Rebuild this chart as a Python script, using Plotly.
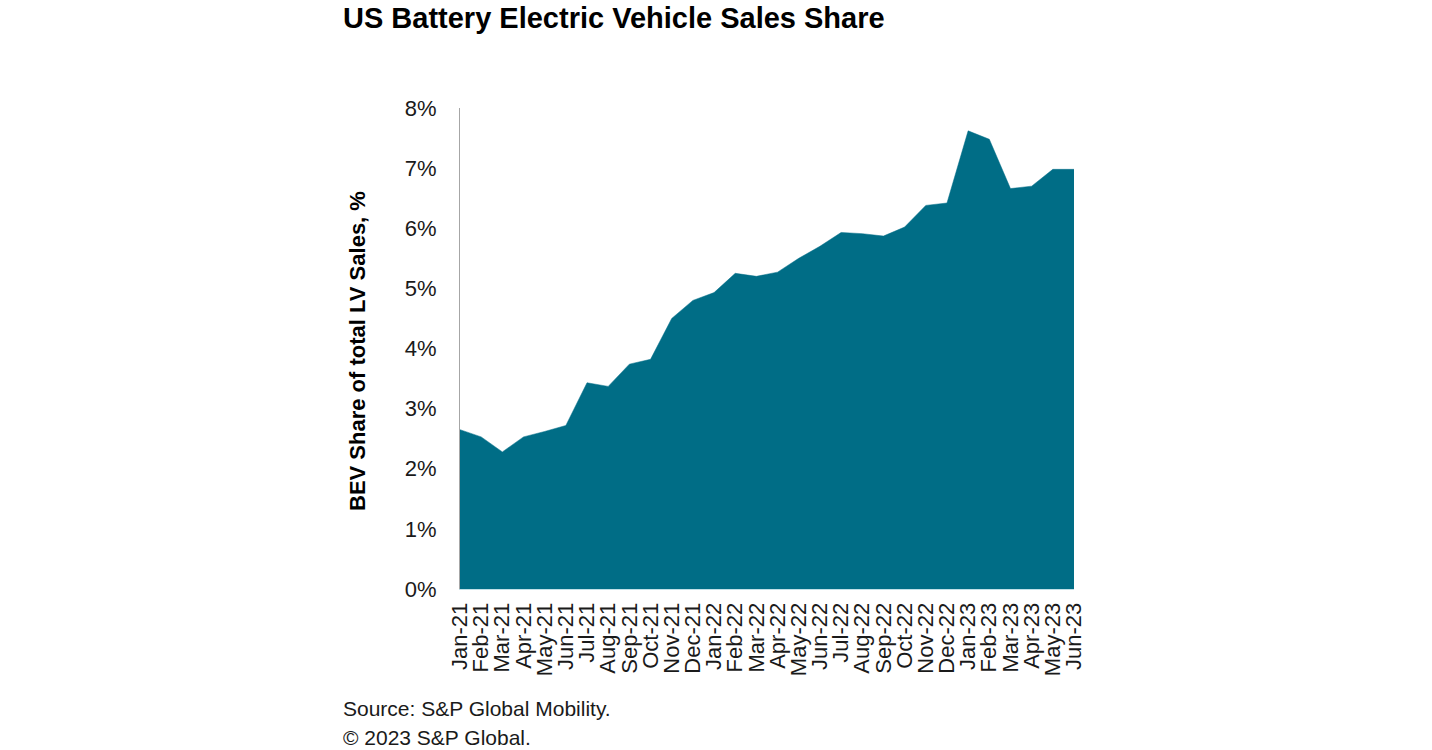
import plotly.graph_objects as go

months = ["Jan-21","Feb-21","Mar-21","Apr-21","May-21","Jun-21","Jul-21","Aug-21","Sep-21","Oct-21",
          "Nov-21","Dec-21","Jan-22","Feb-22","Mar-22","Apr-22","May-22","Jun-22","Jul-22","Aug-22",
          "Sep-22","Oct-22","Nov-22","Dec-22","Jan-23","Feb-23","Mar-23","Apr-23","May-23","Jun-23"]
bev_share = [2.65, 2.53, 2.28, 2.53, 2.62, 2.72, 3.43, 3.37, 3.74, 3.82,
             4.50, 4.80, 4.93, 5.25, 5.20, 5.27, 5.50, 5.70, 5.93, 5.91,
             5.87, 6.02, 6.38, 6.42, 7.62, 7.48, 6.66, 6.70, 6.98, 6.98]
y_ticks = [0, 1, 2, 3, 4, 5, 6, 7, 8]

fig = go.Figure()
fig.add_trace(go.Scatter(
    x=months, y=bev_share, mode="lines", fill="tozeroy",
    line=dict(color="#006D86", width=0.5), fillcolor="#006D86",
    hoverinfo="x+y", showlegend=False,
))

font_family = "Liberation Sans, Arial, sans-serif"
L, R, T, B = 460, 1074, 108, 589
PW, PH = R - L, B - T

def px(x):
    return (x - L) / PW

def py(y):
    return (B - y) / PH

fig.update_layout(
    width=1432, height=750,
    margin=dict(l=L, r=1432 - R, t=T, b=750 - B),
    paper_bgcolor="white", plot_bgcolor="white",
    font=dict(family=font_family, color="#1a1a1a"),
    xaxis=dict(
        type="category", range=[0, len(months) - 1], dtick=1,
        tickangle=-90, tickfont=dict(size=22, color="#1a1a1a"),
        showgrid=False, showline=True, linecolor="#bfe0e8", linewidth=1,
        ticks="", zeroline=False, ticklabelstandoff=4,
    ),
    yaxis=dict(
        range=[0, 8], tickvals=y_ticks, ticktext=[f"{v}%" for v in y_ticks],
        tickfont=dict(size=22, color="#1a1a1a"), showgrid=False,
        showline=True, linecolor="#a6a6a6", linewidth=1, ticks="", zeroline=False,
        ticklabelstandoff=18,
    ),
    annotations=[
        dict(text="<b>US Battery Electric Vehicle Sales Share</b>", xref="paper", yref="paper",
             x=px(341), y=py(18), xanchor="left", yanchor="middle",
             showarrow=False, font=dict(size=29, color="#000000")),
        dict(text="<b>BEV Share of total LV Sales, %</b>", xref="paper", yref="paper",
             x=px(357), y=py(351), xanchor="center", yanchor="middle",
             textangle=-90, showarrow=False, font=dict(size=22, color="#000000")),
        dict(text="Source: S&P Global Mobility.", xref="paper", yref="paper",
             x=px(341), y=py(708), xanchor="left", yanchor="middle",
             showarrow=False, font=dict(size=21, color="#1a1a1a")),
        dict(text="© 2023 S&P Global.", xref="paper", yref="paper",
             x=px(341), y=py(737), xanchor="left", yanchor="middle",
             showarrow=False, font=dict(size=21, color="#1a1a1a")),
    ],
)

fig.write_html("out.html", config={"displayModeBar": False},
               post_script="document.body.style.margin='0';")
